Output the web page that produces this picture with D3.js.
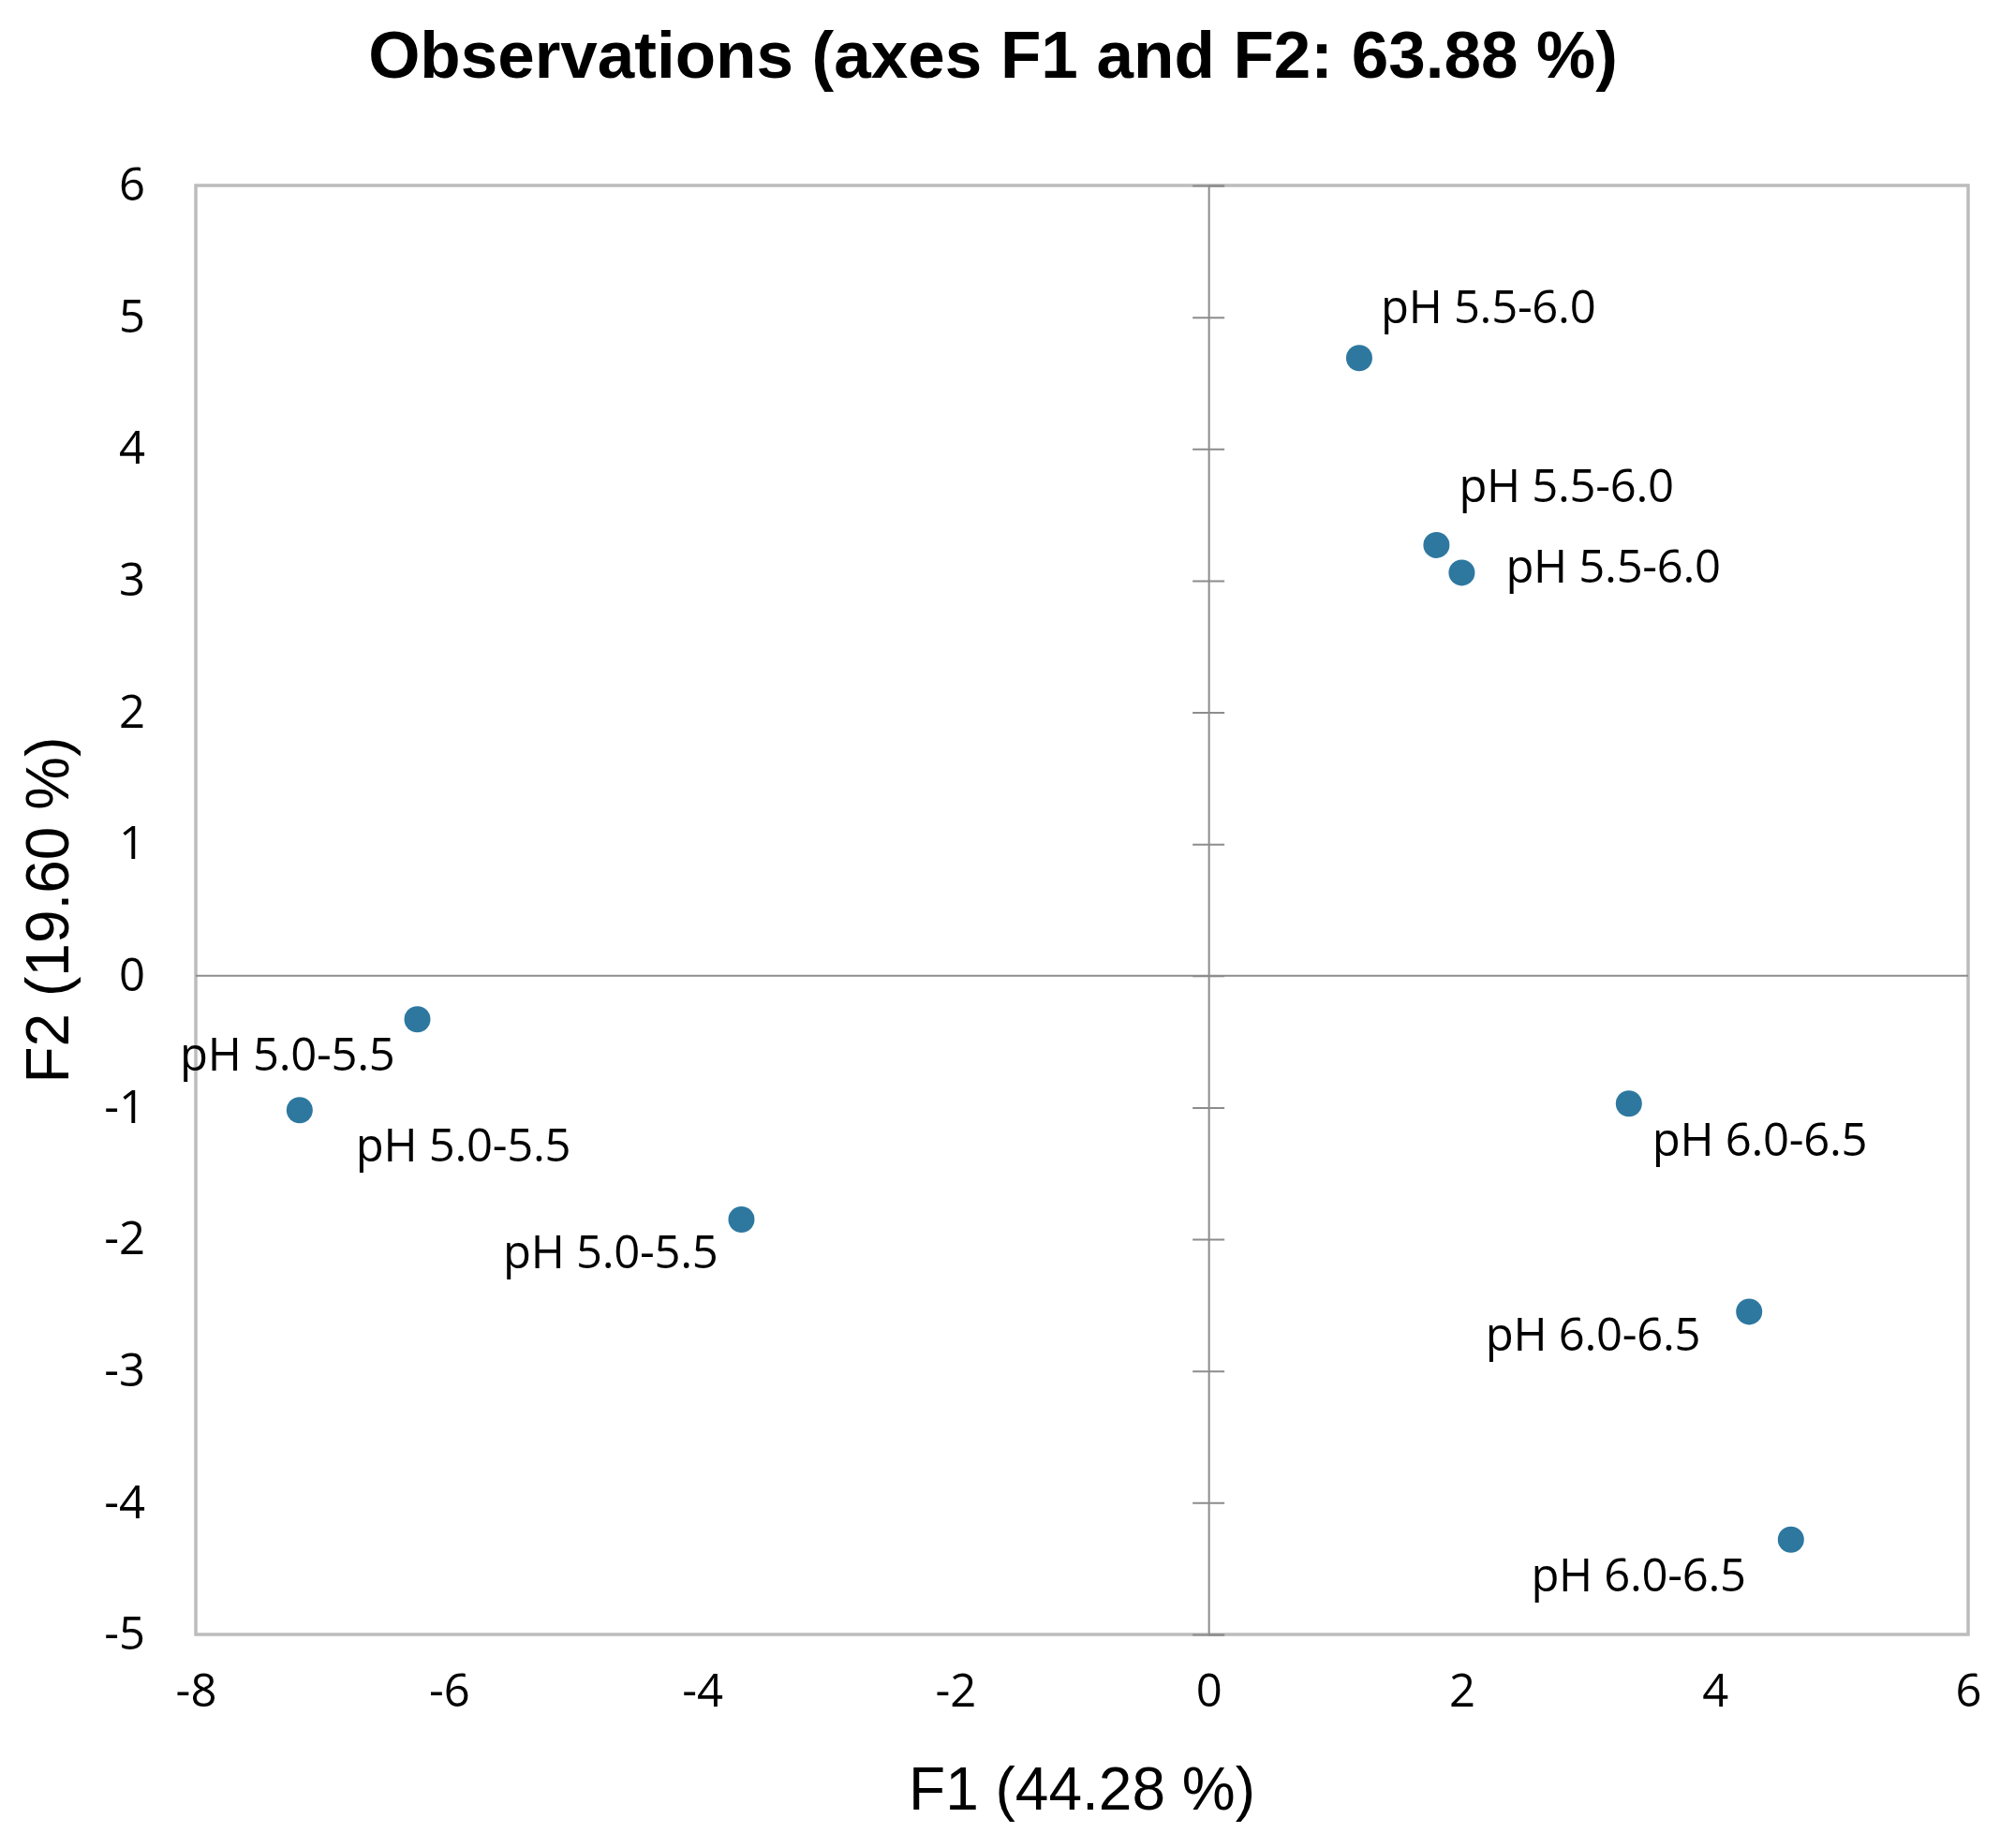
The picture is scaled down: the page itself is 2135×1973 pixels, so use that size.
<!doctype html>
<html>
  <head>
    <meta charset="utf-8">
    <title>Observations (axes F1 and F2)</title>
    <script src="https://cdnjs.cloudflare.com/ajax/libs/d3/7.8.5/d3.min.js"></script>
    <style>
      body { margin: 0; background: #fff; }
    </style>
  </head>
  <body>
    <svg id="chart"></svg>
    <script>
      var labels = ["pH 5.5-6.0", "pH 5.5-6.0", "pH 5.5-6.0",
                    "pH 5.0-5.5", "pH 5.0-5.5", "pH 5.0-5.5",
                    "pH 6.0-6.5", "pH 6.0-6.5", "pH 6.0-6.5"];
      var f1 = [1.19, 1.80, 2.00, -6.25, -7.18, -3.69, 3.32, 4.27, 4.60];
      var f2 = [4.69, 3.27, 3.06, -0.33, -1.02, -1.85, -0.97, -2.55, -4.28];
      var xTicks = [-8, -6, -4, -2, 0, 2, 4, 6];
      var yTicks = [-5, -4, -3, -2, -1, 0, 1, 2, 3, 4, 5, 6];

      // where each label sits next to its point (layout only)
      var labelPlace = [
        {dx: 23, dy: -37, anchor: "start"},
        {dx: 24, dy: -46, anchor: "start"},
        {dx: 47, dy: 11, anchor: "start"},
        {dx: -24, dy: 55, anchor: "end"},
        {dx: 60, dy: 55, anchor: "start"},
        {dx: -25, dy: 52, anchor: "end"},
        {dx: 25, dy: 56, anchor: "start"},
        {dx: -52, dy: 42, anchor: "end"},
        {dx: -48, dy: 55, anchor: "end"}
      ];

      (function() {
        var width = 2135, height = 1973;
        var plotLeft = 209, plotRight = 2101, plotTop = 198, plotBottom = 1745;

        var svg = d3.select("#chart")
            .attr("width", width)
            .attr("height", height);

        var x = d3.scaleLinear().domain([-8, 6]).range([plotLeft, plotRight]);
        var y = d3.scaleLinear().domain([-5, 6]).range([plotBottom, plotTop]);

        var tickFont = "'Open Sans', 'Noto Sans', sans-serif";
        var plainNumber = function(d) { return String(d); };  // hyphen, not the unicode minus

        // frame
        svg.append("rect")
            .attr("x", plotLeft).attr("y", plotTop)
            .attr("width", plotRight - plotLeft).attr("height", plotBottom - plotTop)
            .attr("fill", "none")
            .attr("stroke", "#bcbcbc")
            .attr("stroke-width", 3.5);

        // horizontal zero line
        svg.append("line")
            .attr("x1", plotLeft).attr("x2", plotRight)
            .attr("y1", y(0)).attr("y2", y(0))
            .attr("stroke", "#8c8c8c").attr("stroke-width", 2);

        // vertical zero line carries the crossing ticks
        var yAxisZero = d3.axisRight(y)
            .tickValues(yTicks)
            .tickSize(17)
            .tickFormat("");
        svg.append("g")
            .attr("transform", "translate(" + x(0) + ",0)")
            .call(yAxisZero)
            .call(function(g) {
              g.select(".domain").attr("stroke", "#8c8c8c").attr("stroke-width", 2);
              g.selectAll(".tick line")
                .attr("x1", -17)
                .attr("stroke", "#8c8c8c").attr("stroke-width", 2);
            });

        // tick labels on the frame
        var yAxis = d3.axisLeft(y).tickValues(yTicks).tickSize(0).tickPadding(54)
            .tickFormat(plainNumber);
        svg.append("g")
            .attr("transform", "translate(" + plotLeft + ",0)")
            .call(yAxis)
            .call(function(g) {
              g.select(".domain").remove();
              g.selectAll("text")
                .attr("font-family", tickFont)
                .attr("font-size", 49)
                .attr("fill", "#000");
            });

        var xAxis = d3.axisBottom(x).tickValues(xTicks).tickSize(0).tickPadding(42)
            .tickFormat(plainNumber);
        svg.append("g")
            .attr("transform", "translate(0," + plotBottom + ")")
            .call(xAxis)
            .call(function(g) {
              g.select(".domain").remove();
              g.selectAll("text")
                .attr("font-family", tickFont)
                .attr("font-size", 49)
                .attr("fill", "#000");
            });

        // points
        var points = labels.map(function(d, i) {
          return {label: d, f1: f1[i], f2: f2[i], place: labelPlace[i]};
        });

        svg.append("g")
          .selectAll("circle")
          .data(points)
          .join("circle")
            .attr("cx", function(d) { return x(d.f1); })
            .attr("cy", function(d) { return y(d.f2); })
            .attr("r", 14)
            .attr("fill", "#2e78a0");

        svg.append("g")
          .selectAll("text")
          .data(points)
          .join("text")
            .attr("x", function(d) { return x(d.f1) + d.place.dx; })
            .attr("y", function(d) { return y(d.f2) + d.place.dy; })
            .attr("text-anchor", function(d) { return d.place.anchor; })
            .attr("font-family", tickFont)
            .attr("font-size", 49)
            .attr("letter-spacing", -0.3)
            .attr("fill", "#000")
            .text(function(d) { return d.label; });

        // titles
        svg.append("text")
            .attr("x", 1060).attr("y", 83)
            .attr("text-anchor", "middle")
            .attr("font-family", "'Liberation Sans', Arial, sans-serif")
            .attr("font-weight", "bold")
            .attr("font-size", 71)
            .text("Observations (axes F1 and F2: 63.88 %)");

        svg.append("text")
            .attr("x", (plotLeft + plotRight) / 2).attr("y", 1932)
            .attr("text-anchor", "middle")
            .attr("font-family", "'Liberation Sans', Arial, sans-serif")
            .attr("font-size", 64)
            .text("F1 (44.28 %)");

        svg.append("text")
            .attr("transform", "translate(73," + ((plotTop + plotBottom) / 2) + ") rotate(-90)")
            .attr("text-anchor", "middle")
            .attr("font-family", "'Liberation Sans', Arial, sans-serif")
            .attr("font-size", 64)
            .text("F2 (19.60 %)");
      })();
    </script>
  </body>
</html>
